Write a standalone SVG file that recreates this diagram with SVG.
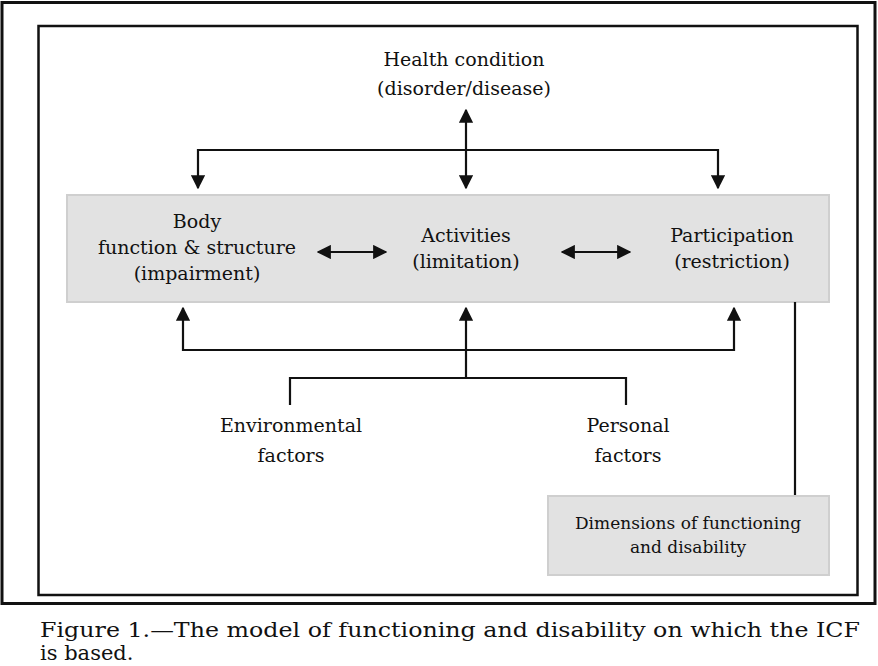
<svg xmlns="http://www.w3.org/2000/svg" width="878" height="666" viewBox="0 0 878 666">
<style>
text{font-family:"DejaVu Serif","Liberation Serif",serif;font-size:19px;fill:#111;text-anchor:middle}
.ln{stroke:#111;stroke-width:2.2;fill:none}
.box{fill:#e2e2e2;stroke:#cfcfcf;stroke-width:2}
</style>
<defs>
<marker id="ah" viewBox="0 0 10 10" refX="9" refY="5" markerWidth="6.5" markerHeight="6.5" orient="auto-start-reverse" markerUnits="strokeWidth"><path d="M0,0 L10,5 L0,10 Z" fill="#111"/></marker>
</defs>
<rect width="878" height="666" fill="#fff"/>
<rect x="2" y="2.5" width="873" height="601" fill="none" stroke="#111" stroke-width="3"/>
<rect x="38.5" y="26" width="819" height="569" fill="none" stroke="#111" stroke-width="2.5"/>
<g id="participation-band"><rect class="box" x="67" y="195" width="762" height="107"/></g>
<g id="health"><text x="464" y="66">Health condition</text><text x="464" y="95">(disorder/disease)</text></g>
<g id="body"><text x="197" y="228">Body</text><text x="197" y="254">function &amp; structure</text><text x="197" y="280">(impairment)</text></g>
<g id="activities"><text x="466" y="242">Activities</text><text x="466" y="268">(limitation)</text></g>
<g id="participation"><text x="732" y="242">Participation</text><text x="732" y="268">(restriction)</text></g>
<g id="env"><text x="291" y="432">Environmental</text><text x="291" y="462">factors</text></g>
<g id="personal"><text x="628" y="432">Personal</text><text x="628" y="462">factors</text></g>
<g id="dimensions"><rect class="box" x="548" y="496" width="281" height="79"/><text x="688" y="529" style="font-size:17px">Dimensions of functioning</text><text x="688" y="553" style="font-size:17px">and disability</text></g>
<g id="connectors">
<path class="ln" d="M466,110 V188" marker-start="url(#ah)" marker-end="url(#ah)"/>
<path class="ln" d="M198,188 V150 H718 V188" marker-start="url(#ah)" marker-end="url(#ah)"/>
<path class="ln" d="M318,252 H386" marker-start="url(#ah)" marker-end="url(#ah)"/>
<path class="ln" d="M562,252 H630" marker-start="url(#ah)" marker-end="url(#ah)"/>
<path class="ln" d="M183,308 V350 H734 V308" marker-start="url(#ah)" marker-end="url(#ah)"/>
<path class="ln" d="M466,378 V308" marker-end="url(#ah)"/>
<path class="ln" d="M290,405 V378 H626 V405"/>
<path class="ln" d="M795,302 V495"/>
</g>
<text x="40" y="637" style="text-anchor:start;font-size:21px" textLength="820" lengthAdjust="spacingAndGlyphs">Figure 1.—The model of functioning and disability on which the ICF</text>
<text x="40" y="660" style="text-anchor:start;font-size:21px">is based.</text>
</svg>
